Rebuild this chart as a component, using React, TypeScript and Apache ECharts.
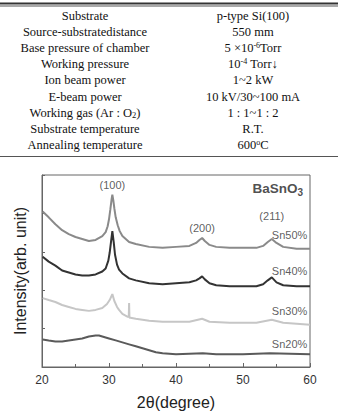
import React, { useEffect, useRef } from "react";
import * as echarts from "echarts";

// ---- Table data ----
const tableLabels = [
  "Substrate",
  "Source-substratedistance",
  "Base pressure of chamber",
  "Working pressure",
  "Ion beam power",
  "E-beam power",
  "Working gas (Ar : O{sub|2})",
  "Substrate temperature",
  "Annealing temperature",
];
const tableValues = [
  "p-type Si(100)",
  "550 mm",
  "5 ×10{sup|-6}Torr",
  "10{sup|-4} Torr↓",
  "1~2 kW",
  "10 kV/30~100 mA",
  "1 : 1~1 : 2",
  "R.T.",
  "600{sup|o}C",
];

// ---- XRD data (2θ in degrees, intensity in arbitrary units) ----
const x50 = [20.1, 21, 22, 23, 24, 25, 26, 27, 28, 29, 29.5, 29.8, 30.0, 30.2, 30.4, 30.5, 30.65, 30.8, 31, 31.3, 31.6, 32, 33, 34, 36, 38, 40, 42, 43, 43.5, 43.9, 44.3, 45, 46, 48, 50, 52, 53, 53.7, 54.3, 55, 56, 58, 60];
const y50 = [158, 152, 145, 139, 135, 132, 130, 128, 129, 133, 137, 143, 150, 160, 171, 175, 169, 161, 152, 144, 138, 133, 127, 125, 122, 121, 122, 123, 126, 129, 131, 128, 124, 122, 121, 121, 121, 123, 127, 130, 126, 122, 120, 120];

const x40 = [20.1, 21, 22, 23, 24, 25, 26, 27, 28, 29, 29.5, 29.9, 30.1, 30.3, 30.5, 30.7, 30.9, 31.2, 31.5, 32, 33, 34, 36, 38, 40, 42, 43, 43.5, 43.9, 44.3, 45, 46, 48, 50, 52, 53, 53.7, 54.3, 55, 56, 58, 60];
const y40 = [112, 107, 103, 98, 96, 94, 93, 93, 94, 97, 100, 108, 116, 127, 138, 127, 114, 104, 99, 95, 90, 88, 85, 84, 85, 86, 88, 90, 92, 89, 85, 83, 82, 82, 82, 84, 88, 91, 86, 83, 82, 82];

const x30 = [20.1, 21, 22, 23, 24, 25, 26, 27, 28, 29, 29.7, 30.1, 30.5, 30.8, 31.2, 31.5, 32, 32.8, 32.95, 33.0, 33.05, 33.2, 34, 36, 38, 40, 42, 43.9, 45, 48, 52, 54.3, 56, 60];
const y30 = [70, 68, 66, 63, 61, 59, 58, 57, 58, 60, 64, 68, 74, 67, 61, 58, 54, 51, 51, 65, 50, 50, 49, 47, 46, 46, 46, 49, 46, 45, 45, 48, 45, 43];

const x20 = [20.1, 21, 22, 23, 24, 25, 26, 27, 28, 28.5, 29, 30, 31, 32, 33, 34, 35, 36, 37, 38, 40, 44, 46, 50, 54, 60];
const y20 = [28, 27, 26, 26, 27, 28, 29, 31, 32, 32, 31, 29, 27, 25, 23, 21, 19, 17, 15, 14, 13, 14, 13, 13, 14, 13];

const seriesNames = ["Sn50%", "Sn40%", "Sn30%", "Sn20%"];
const seriesColors = ["#8a8a8a", "#333333", "#c6c6c6", "#5a5a5a"];

// Annotation labels (2θ, intensity)
const peakLabels = ["(100)", "(200)", "(211)"];
const peakX = [30.5, 43.9, 54.3];
const peakY = [185, 141, 153];
const sampleLabelX = 59.6;
const sampleLabelY = [134, 97, 57, 23];
const phaseLabelPos = [55.2, 181];

const toPairs = (xs: number[], ys: number[]) => xs.map((x, i) => [x, ys[i]]);

export default function App() {
  const ref = useRef<HTMLDivElement>(null);

  useEffect(() => {
    if (!ref.current) return;
    const chart = echarts.init(ref.current, undefined, { renderer: "svg" });

    const serif = "'Liberation Serif', 'Times New Roman', serif";
    const sans = "'Liberation Sans', Arial, sans-serif";
    const rowY0 = 15.5;
    const rowStep = 16.2;

    const tableGraphics: any[] = [];
    tableLabels.forEach((t, i) => {
      tableGraphics.push({
        type: "text",
        x: 85,
        y: rowY0 + i * rowStep,
        style: {
          text: t,
          fontFamily: serif,
          fontSize: 12.5,
          fill: "#111",
          align: "center",
          verticalAlign: "middle",
          rich: {
            sub: { fontFamily: serif, fontSize: 8.5, verticalAlign: "bottom", fill: "#111" },
          },
        },
      });
    });
    tableValues.forEach((t, i) => {
      tableGraphics.push({
        type: "text",
        x: 253,
        y: rowY0 + i * rowStep,
        style: {
          text: t,
          fontFamily: serif,
          fontSize: 12.5,
          fill: "#111",
          align: "center",
          verticalAlign: "middle",
          rich: {
            sup: { fontFamily: serif, fontSize: 8, verticalAlign: "top", fill: "#111" },
          },
        },
      });
    });

    const seriesData = [
      toPairs(x50, y50),
      toPairs(x40, y40),
      toPairs(x30, y30),
      toPairs(x20, y20),
    ];

    const annotationData: any[] = [];
    peakLabels.forEach((t, i) => {
      annotationData.push({
        value: [peakX[i], peakY[i]],
        label: { formatter: t, position: "inside" },
      });
    });
    seriesNames.forEach((t, i) => {
      annotationData.push({
        value: [sampleLabelX, sampleLabelY[i]],
        label: { formatter: t, position: "left", distance: 0 },
      });
    });
    annotationData.push({
      value: phaseLabelPos,
      label: {
        formatter: "{b|BaSnO}{s|3}",
        position: "inside",
        rich: {
          b: { fontFamily: sans, fontSize: 13.5, fontWeight: "bold", color: "#222", lineHeight: 18, verticalAlign: "middle" },
          s: { fontFamily: sans, fontSize: 10, fontWeight: "bold", color: "#222", lineHeight: 10, verticalAlign: "bottom" },
        },
      },
    });

    chart.setOption({
      animation: false,
      backgroundColor: "#ffffff",
      grid: {
        left: 42,
        right: 31,
        top: 175,
        bottom: 41,
        show: true,
        borderColor: "#666",
        borderWidth: 1,
      },
      xAxis: {
        type: "value",
        min: 20,
        max: 60,
        interval: 10,
        name: "2θ(degree)",
        nameLocation: "middle",
        nameGap: 27,
        nameTextStyle: { fontFamily: sans, fontSize: 16, color: "#222" },
        axisLine: { show: true, lineStyle: { color: "#666", width: 1 } },
        axisTick: { show: true, inside: true, length: 4, lineStyle: { color: "#666" } },
        minorTick: { show: true, splitNumber: 2, length: 3, lineStyle: { color: "#666" } },
        axisLabel: { fontFamily: sans, fontSize: 12, color: "#333", margin: 7 },
        splitLine: { show: false },
      },
      yAxis: {
        type: "value",
        min: 0,
        max: 195,
        interval: 39,
        name: "Intensity(arb. unit)",
        nameLocation: "middle",
        nameGap: 14,
        nameRotate: 90,
        nameTextStyle: { fontFamily: sans, fontSize: 16, color: "#222" },
        axisLine: { show: true, lineStyle: { color: "#666", width: 1 } },
        axisTick: { show: true, inside: true, length: 3, lineStyle: { color: "#666" } },
        axisLabel: { show: false },
        splitLine: { show: false },
      },
      graphic: [
        ...tableGraphics,
        { type: "rect", shape: { x: 0, y: 2.5, width: 338, height: 2 }, style: { fill: "#333" } },
        { type: "rect", shape: { x: 0, y: 5.5, width: 338, height: 1 }, style: { fill: "#555" } },
        { type: "rect", shape: { x: 0, y: 156, width: 338, height: 1 }, style: { fill: "#555" } },
      ],
      series: [
        ...seriesNames.map((name, i) => ({
          name,
          type: "line",
          data: seriesData[i],
          showSymbol: false,
          symbol: "none",
          lineStyle: { color: seriesColors[i], width: 2 },
          z: 2,
        })),
        {
          type: "scatter",
          data: annotationData,
          symbolSize: 0,
          silent: true,
          label: {
            show: true,
            fontFamily: sans,
            fontSize: 11,
            color: "#333",
          },
          z: 5,
        },
      ],
    });

    return () => chart.dispose();
  }, []);

  return (
    <div
      ref={ref}
      style={{ position: "absolute", left: 0, top: 0, width: 341, height: 411, background: "#fff" }}
    />
  );
}
